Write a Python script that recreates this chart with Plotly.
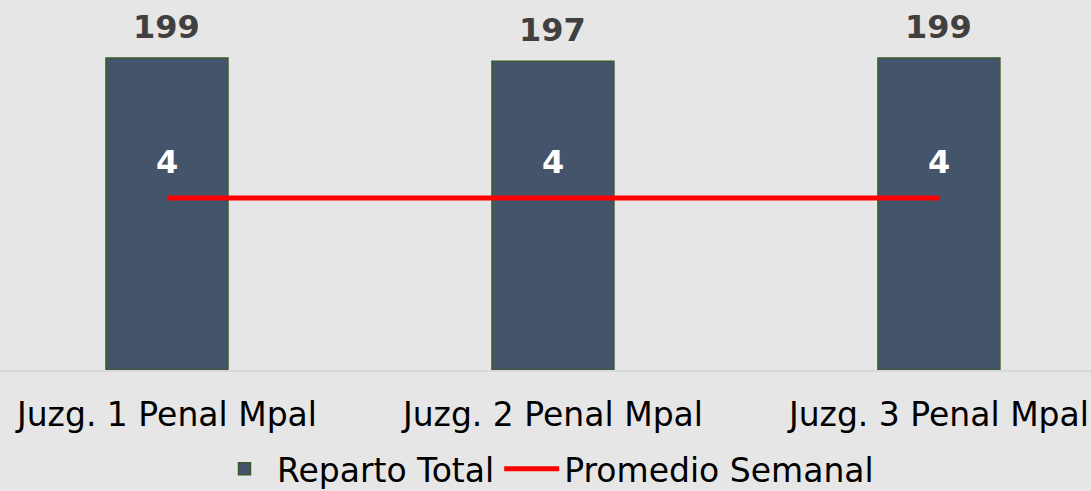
import plotly.graph_objects as go

categories = ["Juzg. 1 Penal Mpal", "Juzg. 2 Penal Mpal", "Juzg. 3 Penal Mpal"]
reparto_total = [199, 197, 199]
promedio_semanal = [4, 4, 4]

BG = "#e7e6e6"
FONT = "DejaVu Sans"

fig = go.Figure()
fig.add_trace(go.Bar(
    x=categories, y=reparto_total, name="Reparto Total", legendgroup="a",
    marker=dict(color="#44546a", line=dict(color="#3b5a2a", width=1.5)),
    width=0.316,
))
fig.add_trace(go.Scatter(
    x=categories, y=promedio_semanal, name="Promedio Semanal", yaxis="y2",
    legendgroup="b",
    mode="lines", line=dict(color="#ff0000", width=5),
))
for c, v in zip(categories, reparto_total):
    fig.add_annotation(x=c, y=v, yref="y", xref="x", text=f"<b>{v}</b>",
                       showarrow=False, yshift=31, yanchor="middle",
                       font=dict(family=FONT, size=32, color="#404040"))
for c, v in zip(categories, promedio_semanal):
    fig.add_annotation(x=c, y=v, yref="y2", xref="x", text=f"<b>{v}</b>",
                       showarrow=False, yshift=36, yanchor="middle",
                       font=dict(family=FONT, size=32, color="#ffffff"))

fig.update_layout(
    width=1091, height=491,
    paper_bgcolor=BG, plot_bgcolor=BG,
    margin=dict(l=0, r=0, t=0, b=121, autoexpand=False),
    font=dict(family=FONT, size=33, color="#000000"),
    showlegend=True,
    legend=dict(orientation="h", x=0.5, xanchor="center",
                yref="container", y=0.045, yanchor="middle",
                font=dict(family=FONT, size=33, color="#000000"),
                bgcolor="rgba(0,0,0,0)", itemwidth=55, tracegroupgap=50),
    xaxis=dict(range=[-0.4326, 2.394], showgrid=False, showline=True,
               linecolor="#d9d9d9", linewidth=2, ticks="outside", ticklen=14,
               tickcolor=BG, automargin=False,
               tickfont=dict(family=FONT, size=33, color="#000000")),
    yaxis=dict(range=[0, 236], visible=False, showgrid=False),
    yaxis2=dict(range=[0, 8.6], overlaying="y", side="right", visible=False,
                showgrid=False),
    bargap=0.5,
)
fig.write_html("out.html", config={"displayModeBar": False},
               post_script="document.body.style.margin='0';document.body.style.background='%s';" % BG)
